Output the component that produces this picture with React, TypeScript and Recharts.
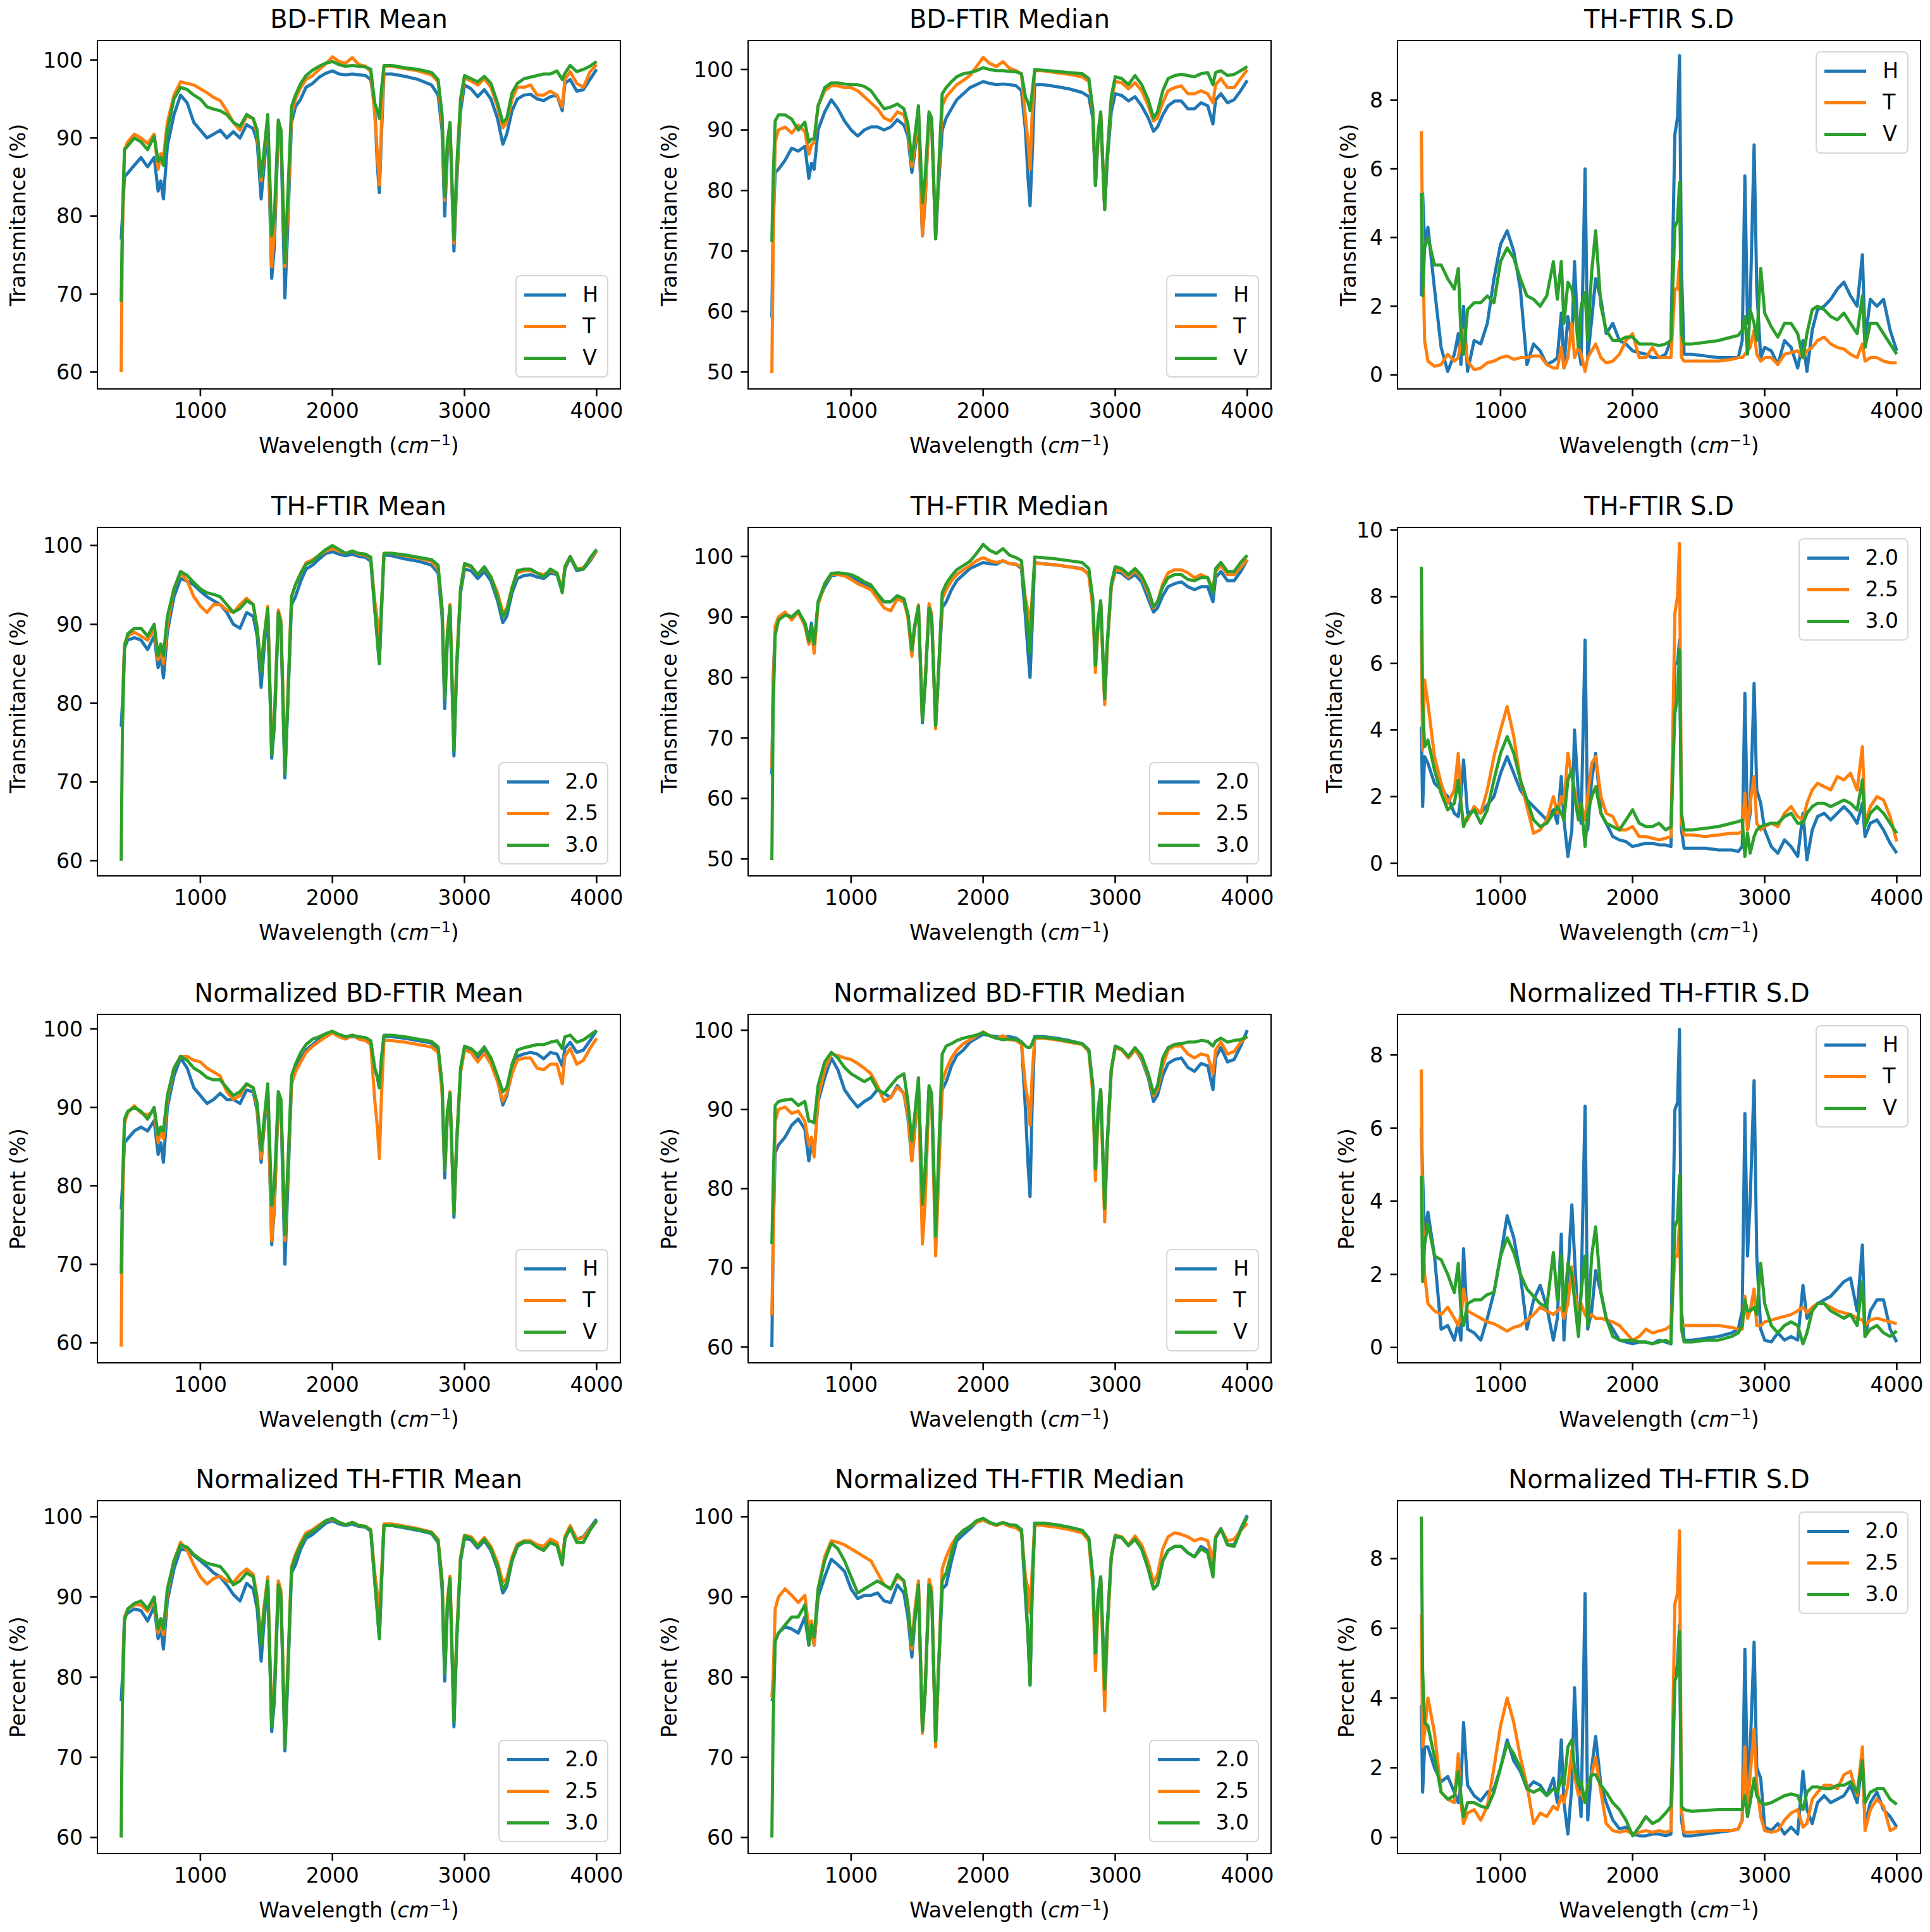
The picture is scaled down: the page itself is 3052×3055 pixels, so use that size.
import React from 'react';
import { LineChart, Line, XAxis, YAxis } from 'recharts';

// wavenumber grid (cm^-1) shared by every panel
const WAVENUMBERS = [
  400, 410, 425, 450, 500, 550, 600, 650, 680, 700,
  720, 750, 800, 850, 900, 950, 1000, 1050, 1100, 1150,
  1200, 1250, 1300, 1350, 1400, 1430, 1460, 1480, 1510, 1540,
  1560, 1590, 1610, 1640, 1660, 1690, 1720, 1760, 1800, 1850,
  1900, 1950, 2000, 2050, 2100, 2150, 2200, 2250, 2290, 2320,
  2340, 2355, 2370, 2390, 2450, 2550, 2650, 2750, 2800, 2830,
  2850, 2870, 2890, 2920, 2940, 2970, 3000, 3050, 3100, 3150,
  3200, 3250, 3290, 3320, 3360, 3400, 3450, 3500, 3550, 3600,
  3650, 3700, 3740, 3760, 3800, 3850, 3900, 3950, 4000,
];

// BD-FTIR Mean
const BD_MEAN_H = [
  77, 80, 85, 85.5, 86.5, 87.5, 86.3, 87.5, 83.2, 84.5,
  82.2, 89, 93, 95.5, 94.5, 92, 91, 90, 90.5, 91,
  90, 90.8, 90, 91.7, 91.2, 89.5, 82.2, 86, 91.5, 72,
  76, 91.5, 90, 69.5, 78, 92, 94, 95, 96.5, 97,
  97.8, 98.3, 98.6, 98.2, 98.1, 98.2, 98.1, 98, 97.5, 94,
  86.5, 83, 90, 98.2, 98.2, 97.9, 97.5, 96.8, 95.5, 91,
  80, 88, 91.5, 75.5, 84, 93.5, 96.8, 96.3, 95.3, 96.2,
  95, 92.5, 89.2, 90.5, 93.5, 95, 95.5, 95.6, 95, 94.8,
  95.3, 95.5, 93.5, 97, 97.5, 96, 96.2, 97.5, 98.8,
];
const BD_MEAN_T = [
  60, 78, 88.5, 89.5, 90.5, 90, 89.3, 90.5, 86, 88,
  87.5, 92, 95.5, 97.2, 97, 96.8, 96.3, 95.8, 95.2, 94.8,
  93.5, 92, 91, 92.8, 92.5, 90.5, 84.5, 87.5, 92.5, 73.5,
  78, 92, 91, 73.5, 80, 93, 95, 96.5, 97.5, 98,
  98.8, 99.5, 100.4, 99.8, 99.6, 100.3, 99.4, 99.2, 98.5, 93,
  88, 84, 91, 99.2, 99.2, 98.9, 98.6, 98.1, 97.2, 92,
  82, 89, 91.8, 76.5, 85, 94.5, 97.7, 97.3, 96.8, 97.6,
  96.5, 94, 91.3, 92, 95, 96.5, 96.5, 96.8, 95.5, 95.5,
  96, 95.5, 94, 97.5, 98.5, 97, 96.5, 98.5, 99.4,
];
const BD_MEAN_V = [
  69, 80, 88.5, 89, 90, 89.5, 88.5, 90.2, 87, 87.5,
  86.5, 91, 95, 96.5, 96.2, 95.5, 95, 94, 93.7, 93.5,
  93, 92, 91.5, 93, 92.5, 91, 85, 88, 93, 77.5,
  80, 92.3, 91, 74, 82, 94, 95.5, 97, 98, 98.7,
  99.2, 99.6, 99.8, 99.4, 99.2, 99.3, 99.2, 99.1, 98.8, 94.5,
  93.5, 92.5, 96, 99.3, 99.3, 99, 98.8, 98.4, 97.5, 93,
  82.5, 89.5, 92, 77, 86, 95, 98, 97.6, 97.2, 97.9,
  97, 94.5, 92, 92.5, 95.8, 97, 97.6, 97.8, 98, 98.2,
  98.2, 98.6, 97.5, 98.3, 99.3, 98.5, 98.8, 99.2, 99.8,
];

// BD-FTIR Median
const BD_MED_H = [
  59, 75, 83, 83.5, 85, 87, 86.5, 87.3, 82, 84.5,
  83.5, 90, 93, 95, 93.5, 91.5, 90, 89, 90, 90.5,
  90.5, 90, 90.5, 91.7, 90.8, 89, 83, 86, 92, 72.5,
  78, 92.5, 91, 72, 80, 90, 92, 93.5, 95, 96,
  97, 97.5, 98, 97.7, 97.5, 97.6, 97.5, 97.3, 96.5, 90,
  82, 77.5, 85, 97.5, 97.5, 97.2, 96.8, 96.2, 95.5, 92,
  81, 88.5, 92.7, 77, 85, 93, 96, 95.7, 94.8, 95.5,
  94, 92, 89.8, 90.5, 92.5, 94, 94.8, 94.8, 93.5, 93.5,
  94.5, 94, 91, 95, 96, 94.5, 95, 96.5, 98.2,
];
const BD_MED_T = [
  49.8, 71, 88, 90, 90.5, 89.5, 90.8, 89.7, 86, 87.5,
  88, 94, 96.5, 97.3, 97.3, 97, 97, 96.5, 95.5, 94.5,
  93.5, 92, 91.5, 93, 92.5, 90, 84, 87, 93, 72.5,
  78, 92.3, 91, 72.5, 81, 94, 95.5, 96.5, 97.5, 98.2,
  99, 100.5, 102, 101, 100.5, 101.3, 100.2, 99.8, 99.3, 92,
  88, 83.5, 92, 99.8, 99.8, 99.5, 99.2, 98.8, 98, 93,
  81, 89, 92.8, 77, 86, 95, 98, 97.8, 96.8, 97.8,
  96.5, 94, 91.5, 92, 94.5, 96.5, 97, 97.3, 96, 96,
  96.5, 96, 94.5, 97.5, 98.5, 97, 97, 98.5, 100,
];
const BD_MED_V = [
  71.5, 82, 91.5, 92.5, 92.5, 91.8, 90, 91.3, 88, 88.5,
  88.5, 94, 97, 97.8, 97.8, 97.6, 97.5, 97.5, 97.2, 96.5,
  95, 93.5, 93.8, 94.3, 93.5, 91, 85, 88.5, 94, 78,
  82, 93, 92, 72, 82, 96, 97, 98, 98.8, 99.3,
  99.5, 99.8, 100.3, 100, 99.8, 99.8, 99.7, 99.6, 99.3, 95.5,
  94.5, 93.2, 96, 100, 99.9, 99.7, 99.5, 99.3, 98.5, 93.5,
  80.8, 89.5, 93, 76.8, 86, 95.5, 98.8, 98.5, 97.5, 99,
  97.5, 95, 92, 93, 96.5, 98.5, 99, 99.2, 99, 98.8,
  99.3, 99.5, 97.5, 99.5, 99.8, 99, 99.2, 99.8, 100.5,
];

// TH-FTIR S.D (H / T / V)
const SD_HTV_H = [
  2.3, 5.3, 3.8, 4.3, 2.5, 0.8, 0.1, 0.6, 1.2, 0.3,
  2.0, 0.1, 1.0, 0.9, 1.5, 2.8, 3.8, 4.2, 3.6, 2.5,
  0.3, 0.9, 0.7, 0.3, 0.4, 0.5, 1.8, 0.2, 1.7, 1.0,
  3.3, 0.8, 0.3, 6.0, 0.5, 1.6, 2.8, 2.2, 1.2, 1.5,
  1.0, 0.9, 0.7, 0.65, 0.6, 0.5, 0.5, 0.6, 1.0, 7.0,
  7.5, 9.3, 3.0, 0.6, 0.6, 0.55, 0.5, 0.5, 0.5, 1.0,
  5.8, 1.5, 2.0, 6.7, 2.5, 0.5, 0.8, 0.7, 0.3, 1.0,
  0.8, 0.2, 1.0, 0.1, 1.3, 1.9, 2.0, 2.2, 2.5, 2.7,
  2.3, 2.0, 3.5, 1.0, 2.2, 2.0, 2.2, 1.3, 0.7,
];
const SD_HTV_T = [
  7.1, 4.0, 1.0, 0.4, 0.25, 0.3, 0.6, 0.4, 0.5, 1.0,
  1.3, 0.4, 0.15, 0.2, 0.35, 0.4, 0.5, 0.55, 0.45, 0.5,
  0.5, 0.55, 0.55, 0.3, 0.2, 0.2, 0.8, 0.2, 0.5, 1.5,
  0.5, 0.8, 0.6, 0.1, 0.5, 0.7, 0.9, 0.5, 0.35, 0.4,
  0.6, 1.0, 1.2, 0.5, 0.5, 0.8, 0.5, 0.5, 0.5, 2.5,
  2.5, 3.3, 0.5, 0.4, 0.4, 0.4, 0.4, 0.45, 0.5, 0.5,
  0.6, 0.7, 0.8, 1.3, 0.6, 0.4, 0.5, 0.5, 0.3, 0.6,
  0.65, 0.7, 0.5, 0.7, 0.8, 1.0, 1.1, 0.9, 0.8, 0.75,
  0.6, 0.5, 0.9, 0.4, 0.5, 0.5, 0.4, 0.35, 0.35,
];
const SD_HTV_V = [
  5.3, 2.3, 3.7, 4.0, 3.2, 3.2, 2.8, 2.5, 3.1, 1.2,
  0.6, 1.9, 2.1, 2.1, 2.3, 2.1, 3.3, 3.7, 3.4, 2.8,
  2.3, 2.2, 2.0, 2.3, 3.3, 2.2, 3.3, 1.5, 2.7, 2.5,
  2.0, 0.8, 2.0, 2.4, 1.0, 3.0, 4.2, 2.0, 1.3, 1.0,
  1.0, 1.1, 1.1, 0.9, 0.9, 0.9, 0.85, 0.9, 1.0, 4.3,
  4.5, 5.6, 1.2, 0.9, 0.9, 0.95, 1.0, 1.1, 1.15, 1.3,
  1.7, 0.6, 1.9, 1.5, 1.0, 3.1, 1.8, 1.4, 1.1, 1.5,
  1.5, 1.2, 0.5, 1.2, 1.9, 2.0, 1.9, 1.7, 1.6, 1.8,
  1.5, 1.2, 2.3, 0.8, 1.5, 1.5, 1.2, 0.9, 0.6,
];

// TH-FTIR Mean
const TH_MEAN_20 = [
  77, 80, 87, 88, 88.3, 88, 86.8, 88.5, 84.5, 86,
  83.2, 89, 93.5, 95.8, 95.5, 95, 94.2, 93.5, 93, 92.5,
  91.5, 90, 89.5, 91.5, 91, 88.5, 82, 86.5, 91.8, 73,
  77, 91, 89.5, 70.5, 79, 92.5, 93.5, 95.5, 97, 97.5,
  98.3, 99, 99.2, 98.9, 98.7, 98.9, 98.6, 98.5, 98, 92,
  88, 85, 91, 98.8, 98.7, 98.3, 98, 97.5, 96.5, 91,
  79.3, 88, 92, 73.3, 84, 94, 97, 96.8, 95.8, 96.7,
  95.5, 93, 90.2, 91, 94, 95.8, 96.2, 96.3, 96, 95.8,
  96.5, 96.3, 94.2, 97, 98.5, 96.8, 97, 98, 99.3,
];
const TH_MEAN_25 = [
  78, 78, 87.5, 88.5, 89, 88.5, 88, 89.3, 85.5, 86.5,
  85, 90, 94.5, 96.5, 95.5, 93.5, 92.3, 91.5, 92.5, 92.5,
  91.8, 91.5, 92.5, 93.3, 92.5, 89.5, 84, 88, 92.3, 74,
  78, 91.8, 90.5, 72, 80, 93.5, 95, 96.5, 97.8, 98.2,
  98.8, 99.3, 99.6, 99.3, 99, 99.3, 98.9, 98.8, 98.3, 93,
  90.5, 86, 92, 99, 99, 98.7, 98.4, 98, 97, 92,
  81, 89, 92.5, 75, 85, 94.5, 97.5, 97.3, 96.3, 97.2,
  96, 94, 91.5, 92, 94.7, 96.5, 96.8, 96.8, 96.5, 96.3,
  96.8, 96.5, 94.5, 97.2, 98.6, 97, 97.2, 98.2, 99.3,
];
const TH_MEAN_30 = [
  60, 77, 87, 88.8, 89.5, 89.5, 88.5, 90, 86, 87.5,
  86, 91, 94.5, 96.7, 96.2, 95.3, 94.5, 94, 93.8, 93.5,
  92.5, 91.5, 92, 93, 92.5, 89.5, 84, 88, 92, 73.5,
  77.5, 91.5, 90, 71, 79.5, 93.5, 95, 96.5, 97.6, 98,
  98.8, 99.5, 100, 99.5, 99, 99.3, 99, 98.9, 98.5, 92,
  88, 85, 92, 99, 99, 98.8, 98.5, 98.2, 97.5, 92,
  80.5, 88.5, 92.3, 74, 84.5, 94.5, 97.7, 97.4, 96.3, 97.3,
  96, 93.5, 91, 91.7, 94.6, 96.8, 97, 97, 96.5, 96,
  97, 96.5, 94, 97.3, 98.6, 97, 97, 98.4, 99.5,
];

// TH-FTIR Median
const TH_MED_20 = [
  64, 80, 87.5, 89.5, 90.5, 90, 90.8, 89, 86.5, 89,
  85, 92.5, 95, 96.8, 97, 97, 96.8, 96, 95.5, 95,
  93.5, 92.5, 92.5, 93.5, 92.5, 90.5, 84, 88, 91.5, 72.5,
  79, 91.5, 90, 72, 80, 91.5, 92.5, 94.5, 96, 97,
  98, 98.5, 99, 98.8, 98.7, 99.3, 98.8, 98.7, 98, 90,
  84, 80, 88, 99, 98.8, 98.6, 98.3, 98, 97, 92,
  82, 89, 92.3, 76, 85.5, 95, 97.5, 97.2, 96.3, 97,
  95.8, 93, 90.8, 91.5, 93.5, 95, 95.5, 95.8, 95, 94.5,
  95, 95, 92.5, 96.5, 97.5, 96, 96, 97.5, 99.5,
];
const TH_MED_25 = [
  65, 78, 88.5, 90, 90.8, 89.5, 90.8, 88.5, 85.5, 88,
  84, 92, 95.5, 97, 97, 96.8, 96.2, 95.5, 95, 94.5,
  93, 91.5, 91, 93, 92.5, 90, 83.5, 88, 92, 73,
  79, 92.2, 90.5, 71.5, 80, 93, 94.5, 96, 97, 97.8,
  98.5, 99.3, 99.8, 99.3, 99, 99.3, 98.8, 98.7, 98.3, 93,
  91, 88, 93, 98.9, 98.8, 98.6, 98.3, 97.9, 97, 91.5,
  80.8, 88.5, 92.3, 75.5, 85, 95, 97.8, 97.6, 96.6, 97.6,
  96.5, 94, 91.5, 92.5, 95.5, 97.3, 97.8, 97.8, 97.3, 96.5,
  97, 96.5, 94.5, 97.5, 98.5, 97, 97, 98.2, 99.5,
];
const TH_MED_30 = [
  49.8, 75, 87, 89.5, 90.3, 90, 91, 89, 86, 88.5,
  85.5, 92.5, 95.5, 97.2, 97.3, 97.2, 97, 96.5, 95.8, 95.3,
  93.8, 92.5, 92.5, 93.5, 93, 90.5, 84.5, 88.5, 91.8, 72.8,
  78.5, 91.5, 90, 72, 80, 94, 95.5, 96.8, 97.8, 98.5,
  99.2, 100.5, 102, 101, 100.5, 101.3, 100.2, 99.8, 99.3, 92,
  87.5, 84, 92, 99.9, 99.8, 99.6, 99.3, 99, 98, 93,
  82, 89.5, 92.7, 76.5, 86, 95.5, 98.3, 98, 97, 98,
  96.8, 94.5, 91.7, 92.5, 95, 96.5, 97, 97, 96.2, 96,
  96.5, 96.5, 94, 98, 99, 97.5, 97.5, 99, 100.2,
];

// TH-FTIR S.D (2.0 / 2.5 / 3.0)
const SD_LVL_20 = [
  4.1, 1.7, 3.2, 3.0, 2.4, 2.2, 2.0, 1.5, 1.4, 2.0,
  3.1, 1.5, 1.6, 1.5, 1.75, 2.0, 2.7, 3.2, 2.7, 2.2,
  1.9, 1.7, 1.5, 1.3, 1.6, 1.2, 2.6, 1.3, 0.2, 1.0,
  4.0, 2.0, 1.2, 6.7, 1.0, 2.5, 3.3, 1.5, 1.2, 0.8,
  0.7, 0.65, 0.5, 0.55, 0.6, 0.6, 0.55, 0.55, 0.5, 6.0,
  6.0, 6.7, 1.0, 0.45, 0.45, 0.45, 0.4, 0.4, 0.35, 0.5,
  5.1, 1.0, 1.5, 5.4, 2.2, 1.8, 1.0, 0.5, 0.3, 0.7,
  0.5, 0.2, 1.5, 0.1, 1.0, 1.4, 1.5, 1.3, 1.5, 1.7,
  1.5, 1.2, 1.8, 0.8, 1.2, 1.3, 1.0, 0.6, 0.3,
];
const SD_LVL_25 = [
  7.0, 3.4, 5.5, 4.8, 3.2, 2.4, 1.8, 2.2, 3.3, 1.8,
  1.2, 1.3, 1.7, 1.5, 2.2, 3.2, 4.0, 4.7, 3.8, 2.5,
  1.7, 0.9, 1.0, 1.3, 2.0, 1.5, 2.0, 1.8, 3.3, 2.6,
  2.2, 1.5, 1.8, 1.3, 2.0, 3.0, 3.2, 2.0, 1.5, 1.4,
  1.0, 1.0, 1.1, 0.8, 0.8, 0.75, 0.7, 0.75, 0.8, 7.5,
  8.0, 9.6, 1.2, 0.85, 0.85, 0.8, 0.85, 0.9, 0.9, 0.95,
  2.1, 1.0, 1.8, 2.6, 1.2, 1.0, 1.1, 1.2, 1.1, 1.5,
  1.7, 1.4, 1.3, 1.8, 2.2, 2.4, 2.3, 2.2, 2.6, 2.5,
  2.7, 2.2, 3.5, 1.2, 1.7, 2.0, 1.9, 1.4, 0.65,
];
const SD_LVL_30 = [
  8.9, 4.8, 3.5, 3.7, 2.8, 2.1, 1.6, 1.8, 2.5, 1.8,
  1.1, 1.4, 1.6, 1.2, 1.6, 2.5, 3.3, 3.8, 3.3, 2.5,
  1.9, 1.3, 1.1, 1.2, 1.5, 1.7, 1.5, 1.3, 2.5, 2.8,
  2.0, 1.3, 1.8, 0.5, 1.5, 2.0, 2.3, 1.5, 1.2, 1.1,
  1.0, 1.3, 1.6, 1.2, 1.1, 1.1, 1.2, 1.0, 1.1, 4.5,
  5.0, 6.4, 1.5, 1.0, 1.0, 1.05, 1.1, 1.2, 1.25, 1.3,
  0.2, 0.9, 0.3, 0.8, 1.0, 1.1, 1.15, 1.2, 1.2, 1.4,
  1.5, 1.2, 1.2, 1.5, 1.7, 1.8, 1.8, 1.7, 1.8, 1.9,
  1.8, 1.6, 2.5, 1.1, 1.5, 1.7, 1.5, 1.2, 0.9,
];

// Normalized BD-FTIR Mean
const NBD_MEAN_H = [
  77, 80, 85.5, 86, 87, 87.5, 87, 88.3, 84, 85.5,
  83, 90, 94, 96.3, 95, 92.5, 91.5, 90.5, 91, 91.8,
  91, 91, 90.5, 92.2, 92, 89.5, 83, 87, 92, 72.5,
  77, 91, 90, 70, 79, 93, 95, 96.2, 97.3, 98,
  98.7, 99, 99.5, 99.2, 98.9, 99, 99, 98.8, 98.3, 95,
  93.8, 92.5, 96, 99, 99, 98.8, 98.5, 98.2, 97.5, 92.5,
  81, 89, 91.8, 76, 85, 94.5, 97.5, 97.3, 96.3, 97.3,
  95.8, 93.5, 90.3, 91.5, 94.5, 96.5, 96.8, 97, 96.8, 96.2,
  97, 96.8, 95.3, 97.5, 98.3, 97, 97.3, 98.5, 99.8,
];
const NBD_MEAN_T = [
  59.5, 77, 88, 89.3, 90.2, 89.3, 89, 89.6, 85.5, 87,
  86, 91, 95, 96.5, 96.5, 96, 95.8, 95, 94.5, 94,
  92, 91, 91.5, 93, 92.5, 90, 83.5, 87.5, 92.5, 73,
  77.5, 91.5, 90.5, 73, 81, 93, 94.5, 95.8, 97, 97.8,
  98.4, 99, 99.5, 99, 98.7, 99.2, 98.7, 98.5, 98, 91,
  87.5, 83.5, 91, 98.5, 98.5, 98.3, 98, 97.7, 97, 92,
  82, 89, 92, 76.5, 85.5, 94.5, 97.3, 97, 95.8, 96.9,
  95.5, 93.3, 90.8, 91.8, 94.3, 96, 96.3, 96.3, 95, 94.8,
  95.5, 95.5, 93, 96.5, 97.5, 95.5, 96, 97.5, 98.8,
];
const NBD_MEAN_V = [
  68.8, 80, 88.5, 89.5, 90, 89.5, 88.5, 90, 86.5, 87.5,
  87, 91.5, 95, 96.5, 96, 95, 94.5, 93.8, 93.5, 93.5,
  92.5, 91.5, 92, 93, 92.5, 90.5, 84.5, 88, 93, 77.5,
  80, 92, 91, 73.8, 81.5, 94, 95.5, 97, 98, 98.7,
  99, 99.4, 99.7, 99.3, 99, 99.2, 99, 98.9, 98.5, 95,
  94, 92.5, 96, 99.2, 99.2, 99, 98.7, 98.4, 97.7, 93,
  82, 89.5, 91.8, 76.5, 85.5, 95, 97.8, 97.5, 96.7, 97.7,
  96.3, 94, 92, 92.5, 95.5, 97.3, 97.6, 97.8, 98, 98,
  98.3, 98.5, 97.5, 99, 99.2, 98.3, 98.6, 99.2, 99.8,
];

// Normalized BD-FTIR Median
const NBD_MED_H = [
  60, 74.5, 84.5, 85.5, 86.5, 88, 88.8, 87.5, 83.5, 85.5,
  84.5, 91, 94, 96.5, 95, 92.5, 91.3, 90.3, 91, 91.5,
  92.5, 92, 91.5, 93, 92, 89, 83.5, 87, 93, 78.5,
  82, 92.5, 91.5, 74.5, 82, 92.5, 93.5, 95.5, 96.8, 97.5,
  98.5, 99, 99.5, 99.3, 99.2, 99.1, 99.2, 99, 98.5, 90,
  83, 79, 90, 99.2, 99.2, 99, 98.7, 98.3, 97.5, 93,
  82.5, 90, 92.5, 77.5, 86, 95, 97.8, 97.6, 96.5, 97.6,
  96.3, 94, 91, 91.8, 94.3, 95.8, 96.3, 96.5, 95.3, 94.8,
  95.8, 95.5, 92.5, 96.5, 97.8, 96, 96.3, 98, 100,
];
const NBD_MED_T = [
  64, 73, 88.5, 90, 90.3, 89.5, 89.8, 88.5, 85.5, 86.5,
  84, 91.5, 95, 97, 96.8, 96.5, 96.3, 95.8, 95.2, 94.5,
  93, 91, 91.5, 92.8, 92, 89.5, 83.5, 87.5, 92.5, 73,
  78, 92, 91, 71.5, 80, 93.5, 95, 96.5, 97.5, 98.3,
  98.8, 99.3, 99.8, 99.3, 99, 99.3, 98.8, 98.7, 98.2, 93,
  91, 88, 94, 99, 99, 98.8, 98.5, 98.2, 97.3, 92,
  81, 89, 92.5, 75.8, 85.5, 95, 97.8, 97.5, 96.5, 97.5,
  96.5, 94.3, 91.7, 92.5, 95.5, 97.5, 98, 98, 97, 96.5,
  97, 96.8, 94.5, 97.5, 98.5, 97, 97.3, 98.5, 99.2,
];
const NBD_MED_V = [
  73, 80.5, 90.5, 91, 91.2, 91.3, 90.5, 91, 88.5, 88.5,
  88.3, 93, 96, 97.2, 96.5, 95.3, 94.5, 94, 93.5, 94,
  92.5, 92, 93, 94, 94.5, 91, 86, 89, 94, 78,
  82, 93, 92, 74, 83, 97, 98, 98.3, 98.7, 99,
  99.2, 99.4, 99.7, 99.3, 99, 98.8, 98.9, 98.8, 98.5, 98,
  97.8, 97.8, 98.3, 99.1, 99.1, 98.9, 98.6, 98.3, 97.5, 93,
  82.5, 89.5, 92.5, 77.5, 86, 95, 98, 97.6, 96.7, 97.8,
  96.8, 94.5, 92, 93, 96.5, 97.8, 98.2, 98.3, 98.5, 98.5,
  98.7, 98.6, 98, 98.6, 99, 98.5, 98.7, 98.8, 99.2,
];

// Normalized TH-FTIR S.D (H / T / V)
const NSD_HTV_H = [
  6.0, 4.7, 3.0, 3.7, 2.5, 0.5, 0.6, 0.2, 0.7, 0.2,
  2.7, 0.5, 0.4, 0.2, 0.8, 1.5, 2.5, 3.6, 3.0, 2.0,
  0.5, 1.3, 1.7, 1.1, 0.2, 0.8, 3.1, 0.2, 2.0, 3.9,
  2.5, 0.5, 1.5, 6.6, 0.5, 1.0, 2.1, 1.5, 0.8, 0.5,
  0.2, 0.15, 0.1, 0.15, 0.15, 0.1, 0.2, 0.15, 0.1, 6.5,
  6.7, 8.7, 1.0, 0.2, 0.2, 0.25, 0.3, 0.4, 0.5, 1.0,
  6.4, 2.5, 4.0, 7.3, 2.5, 0.5, 0.2, 0.15, 0.4, 0.2,
  0.3, 0.2, 1.7, 0.8, 1.0, 1.2, 1.3, 1.4, 1.6, 1.8,
  1.9, 1.0, 2.8, 0.3, 1.0, 1.3, 1.3, 0.5, 0.15,
];
const NSD_HTV_T = [
  7.6, 3.5, 2.0, 1.2, 1.0, 0.9, 1.1, 0.8, 0.6, 0.9,
  1.6, 1.0, 0.9, 0.8, 0.7, 0.65, 0.55, 0.45, 0.55, 0.6,
  0.75, 0.9, 1.1, 1.0, 0.9, 1.0, 1.1, 0.8, 1.2, 2.2,
  1.5, 1.0, 1.2, 0.9, 0.8, 0.9, 0.8, 0.8, 0.75, 0.7,
  0.6, 0.4, 0.2, 0.3, 0.5, 0.4, 0.45, 0.5, 0.6, 2.5,
  2.5, 3.4, 0.6, 0.6, 0.6, 0.6, 0.6, 0.55, 0.5, 0.5,
  1.4, 0.8, 1.0, 1.6, 0.6, 0.6, 0.7, 0.75, 0.8, 0.85,
  0.9, 1.0, 1.1, 0.95, 1.1, 1.2, 1.2, 1.1, 1.0, 0.95,
  0.9, 0.8, 0.75, 0.6, 0.75, 0.8, 0.75, 0.7, 0.65,
];
const NSD_HTV_V = [
  4.7, 1.8, 2.8, 3.4, 2.5, 2.4, 2.0, 1.5, 2.3, 1.0,
  0.6, 1.2, 1.3, 1.3, 1.45, 1.5, 2.5, 3.0, 2.6, 2.0,
  1.6, 1.4, 1.2, 1.1, 2.6, 1.3, 2.5, 1.0, 2.3, 2.0,
  1.3, 0.3, 1.5, 2.5, 0.6, 2.5, 3.3, 1.5, 0.8, 0.3,
  0.2, 0.2, 0.2, 0.15, 0.15, 0.1, 0.15, 0.2, 0.1, 3.3,
  3.5, 4.7, 0.5, 0.15, 0.15, 0.2, 0.2, 0.3, 0.4, 0.6,
  1.3, 1.0, 1.0, 1.1, 0.9, 2.3, 1.2, 0.6, 0.4, 0.6,
  0.7, 0.6, 0.1, 0.4, 1.0, 1.2, 1.2, 1.0, 0.9, 0.8,
  0.9, 0.6, 1.8, 0.3, 0.5, 0.6, 0.4, 0.3, 0.45,
];

// Normalized TH-FTIR Mean
const NTH_MEAN_20 = [
  77, 80, 87.5, 88, 88.5, 88.3, 87, 88.8, 84.8, 86.2,
  83.5, 89.5, 93.5, 96, 95.8, 95.2, 94.5, 93.8, 93, 92.5,
  91.5, 90.3, 89.5, 91.7, 91, 88.5, 82, 86.5, 92, 73.2,
  77, 91, 90, 70.8, 79, 93, 94, 96, 97.3, 97.8,
  98.5, 99.2, 99.5, 99.1, 98.9, 99.1, 98.8, 98.7, 98.2, 92,
  88, 84.8, 91, 98.9, 98.9, 98.6, 98.3, 97.9, 96.8, 91,
  79.5, 88.5, 92, 73.8, 84, 94.5, 97.3, 97.1, 96.1, 97,
  95.8, 93.5, 90.5, 91.3, 94.5, 96.3, 96.8, 96.9, 96.4, 96,
  97, 96.6, 94.3, 97.3, 98.8, 97.2, 97.5, 98.6, 99.7,
];
const NTH_MEAN_25 = [
  78, 78, 87.5, 88.5, 89, 89, 88.2, 89.5, 85.5, 86.8,
  85.3, 90.5, 94.5, 96.8, 95.8, 94, 92.5, 91.6, 92.3, 92.6,
  92, 91.8, 92.8, 93.5, 92.8, 90, 84.5, 88.5, 92.5, 74.3,
  78.5, 92, 90.8, 72, 80.5, 93.8, 95.3, 96.8, 98, 98.4,
  99, 99.5, 99.7, 99.3, 99, 99.3, 98.9, 98.8, 98.4, 93,
  90.5, 86, 92.5, 99.1, 99.1, 98.8, 98.5, 98.1, 97.2, 92,
  81, 89.5, 92.6, 75.5, 85, 95, 97.7, 97.5, 96.5, 97.4,
  96.3, 94.3, 91.8, 92.3, 95, 96.6, 97, 97, 96.5, 96.3,
  97.2, 96.8, 94.5, 97.5, 98.9, 97.2, 97.4, 98.5, 99.4,
];
const NTH_MEAN_30 = [
  60, 77, 87, 88.5, 89.2, 89.5, 88.5, 90, 86, 87.3,
  86, 91, 94.5, 96.5, 96.2, 95.3, 94.7, 94.2, 94, 93.8,
  92.8, 91.5, 92, 93, 92.5, 89.5, 84, 88, 92, 73.8,
  78, 91.5, 90.2, 71.2, 80, 93.5, 95, 96.5, 97.7, 98.2,
  98.8, 99.5, 99.8, 99.3, 99, 99.3, 98.9, 98.8, 98.3, 92,
  88, 84.8, 91.5, 98.9, 98.9, 98.7, 98.4, 98, 97, 92,
  80.5, 89, 92.3, 74.5, 84.5, 94.7, 97.6, 97.3, 96.3, 97.2,
  96, 93.8, 91, 91.7, 94.6, 96.4, 96.9, 96.8, 96.2, 95.8,
  96.8, 96.4, 94, 97.2, 98.6, 96.8, 96.8, 98.3, 99.5,
];

// Normalized TH-FTIR Median
const NTH_MED_20 = [
  77, 77.5, 84.5, 85.5, 86.3, 86, 85.5, 87.5, 84, 86,
  84, 90, 92.5, 94.7, 94, 93.2, 91, 89.8, 90.2, 90.2,
  90.5, 89.5, 89.3, 91.5, 90.5, 87.5, 82.5, 86.5, 91.5, 73.5,
  78, 91.5, 90.5, 72, 80, 91, 91.5, 94.5, 97, 97.8,
  98.5, 99.3, 99.6, 99.2, 99, 99.2, 99, 98.9, 98.4, 90,
  85, 79, 90, 99.2, 99.2, 99, 98.7, 98.3, 97.3, 92.5,
  83, 90, 92.5, 79, 86.5, 95, 97.5, 97.4, 96.4, 97.2,
  96, 93.5, 91, 91.5, 94.5, 95.8, 96.3, 96.3, 95.5, 95,
  96.3, 95.8, 92.8, 97.5, 98.5, 96.5, 96.5, 98.5, 100.2,
];
const NTH_MED_25 = [
  77.5, 80, 88.5, 90, 91, 90.2, 89.3, 90.2, 86, 87,
  84, 91, 95, 97, 96.8, 96.5, 96, 95.5, 95, 94.5,
  93, 91.5, 91, 92.5, 92, 89, 83.5, 88, 92, 73,
  78, 92.2, 91, 71.3, 80, 93.5, 95, 96.5, 97.5, 98.3,
  98.8, 99.3, 99.6, 99.2, 98.9, 99.2, 98.8, 98.6, 98.1, 92.5,
  91, 88, 93, 99, 98.9, 98.7, 98.4, 98, 97, 91.5,
  80.8, 89, 92.3, 75.8, 85.5, 95, 97.7, 97.5, 96.5, 97.6,
  96.5, 94.3, 91.8, 92.8, 96, 97.5, 98, 97.8, 97.5, 97,
  97.3, 97, 94.5, 97.5, 98.5, 97, 97.2, 98.3, 99.2,
];
const NTH_MED_30 = [
  60, 74.5, 84.5, 85.5, 86.5, 87.5, 87.5, 89, 84, 86.5,
  85, 91, 94.5, 96.7, 96, 94.5, 92.5, 90.5, 91, 91.5,
  92, 91.5, 91, 92.8, 92, 89, 84, 87, 91.5, 73.3,
  78, 91.5, 90.5, 72, 80.5, 92, 93, 95.5, 97.5, 98.3,
  98.8, 99.5, 99.8, 99.3, 99, 99.3, 99, 98.9, 98.4, 91,
  85, 79, 90, 99.2, 99.2, 99, 98.7, 98.3, 97.3, 92.5,
  83, 90, 92.5, 78.5, 86.5, 95, 97.6, 97.4, 96.4, 97.2,
  96, 93.5, 91, 91.5, 94.5, 95.8, 96.3, 96.3, 95.5, 95,
  96, 95.5, 92.5, 97.3, 98.5, 96.5, 96.3, 98.3, 100,
];

// Normalized TH-FTIR S.D (2.0 / 2.5 / 3.0)
const NSD_LVL_20 = [
  3.8, 1.3, 2.6, 2.6, 2.0, 1.6, 1.75, 1.3, 1.0, 1.5,
  3.3, 1.5, 1.2, 1.05, 1.3, 1.4, 2.0, 2.8, 2.2, 1.9,
  1.4, 1.6, 1.5, 1.2, 1.7, 1.0, 2.8, 1.0, 0.1, 1.5,
  4.3, 1.5, 0.6, 7.0, 0.5, 2.0, 2.9, 1.5, 1.0, 0.5,
  0.25, 0.3, 0.1, 0.05, 0.05, 0.1, 0.1, 0.05, 0.1, 4.5,
  5.0, 6.1, 0.5, 0.05, 0.05, 0.1, 0.15, 0.2, 0.25, 0.5,
  5.4, 1.5, 2.5, 5.6, 2.0, 1.7, 0.3, 0.2, 0.4, 0.1,
  0.3, 0.1, 1.9, 0.8, 0.4, 1.0, 1.2, 1.0, 1.1, 1.2,
  1.5, 1.0, 2.2, 0.4, 1.0, 1.3, 0.8, 0.6, 0.3,
];
const NSD_LVL_25 = [
  6.4, 2.6, 3.0, 4.0, 3.0, 1.3, 1.1, 1.0, 2.4, 1.0,
  0.4, 0.7, 0.8, 0.5, 0.9, 2.0, 3.2, 4.0, 3.3, 2.3,
  1.5, 0.4, 0.7, 0.6, 0.9, 0.8, 1.2, 1.0, 1.5, 2.5,
  1.8, 1.2, 1.3, 1.0, 1.5, 1.8, 2.3, 1.3, 0.4, 0.2,
  0.15, 0.2, 0.1, 0.15, 0.2, 0.15, 0.2, 0.15, 0.2, 6.7,
  7.0, 8.8, 0.8, 0.15, 0.15, 0.18, 0.2, 0.2, 0.25, 0.5,
  2.6, 0.8, 1.8, 3.1, 1.5, 0.6, 0.2, 0.15, 0.2, 0.5,
  0.7, 0.8, 0.3, 0.4, 1.1, 1.3, 1.5, 1.5, 1.4, 1.8,
  1.9, 1.2, 2.6, 0.2, 0.8, 1.1, 0.9, 0.2, 0.3,
];
const NSD_LVL_30 = [
  9.2, 4.8, 3.3, 3.2, 2.3, 1.3, 1.1, 1.2, 1.9, 1.2,
  0.6, 1.0, 1.0, 0.9, 0.85, 1.3, 2.0, 2.7, 2.4, 2.0,
  1.4, 1.3, 1.4, 1.2, 1.4, 1.3, 1.7, 1.5, 2.6, 2.8,
  2.0, 1.5, 1.6, 1.0, 1.5, 1.8, 1.8, 1.5, 1.3, 1.0,
  0.8, 0.5, 0.05, 0.3, 0.6, 0.4, 0.5, 0.7, 0.9, 4.5,
  4.7, 5.9, 0.9, 0.8, 0.75, 0.78, 0.8, 0.8, 0.8, 0.8,
  1.2, 0.6, 1.0, 1.7, 1.2, 1.0, 0.95, 1.0, 1.1, 1.2,
  1.25, 1.2, 0.8, 1.3, 1.45, 1.45, 1.4, 1.4, 1.5, 1.5,
  1.6, 1.3, 2.2, 1.0, 1.3, 1.4, 1.4, 1.1, 0.95,
];

const GROUP_LABELS = ['H', 'T', 'V'];
const LEVEL_LABELS = ['2.0', '2.5', '3.0'];
const X_TICKS = [1000, 2000, 3000, 4000];
const PCT_TICKS = [60, 70, 80, 90, 100];
const PCT_TICKS_WIDE = [50, 60, 70, 80, 90, 100];
const SD_TICKS = [0, 2, 4, 6, 8];
const SD_TICKS_TALL = [0, 2, 4, 6, 8, 10];

const COLORS = ['#1f77b4', '#ff7f0e', '#2ca02c'];
const FONT = '"DejaVu Sans", sans-serif';

// frame geometry of the 4x3 grid (px)
const COL_LEFT = [154, 1183, 2210];
const ROW_TOP = [64, 834, 1604, 2373];
const ROW_H = [551, 551, 551, 558];
const FRAME_W = 827;
const AXIS_W = 150;
const AXIS_H = 60;
const PAD_R = 50;
const PAD_T = 30;

type PanelDef = {
  row: number;
  col: number;
  title: string;
  yLabel: string;
  domain: [number, number];
  ticks: number[];
  labels: string[];
  series: number[][];
  legendTop: boolean;
  yLabelOffset: number;
};

const TRANS = 'Transmitance (%)';
const PERCENT = 'Percent (%)';

const PANELS: PanelDef[] = [
  { row: 0, col: 0, title: 'BD-FTIR Mean', yLabel: TRANS, domain: [57.84, 102.5], ticks: PCT_TICKS, labels: GROUP_LABELS, series: [BD_MEAN_H, BD_MEAN_T, BD_MEAN_V], legendTop: false, yLabelOffset: 125 },
  { row: 0, col: 1, title: 'BD-FTIR Median', yLabel: TRANS, domain: [47.2, 104.8], ticks: PCT_TICKS_WIDE, labels: GROUP_LABELS, series: [BD_MED_H, BD_MED_T, BD_MED_V], legendTop: false, yLabelOffset: 124 },
  { row: 0, col: 2, title: 'TH-FTIR S.D', yLabel: TRANS, domain: [-0.41, 9.74], ticks: SD_TICKS, labels: GROUP_LABELS, series: [SD_HTV_H, SD_HTV_T, SD_HTV_V], legendTop: true, yLabelOffset: 77 },
  { row: 1, col: 0, title: 'TH-FTIR Mean', yLabel: TRANS, domain: [58.08, 102.29], ticks: PCT_TICKS, labels: LEVEL_LABELS, series: [TH_MEAN_20, TH_MEAN_25, TH_MEAN_30], legendTop: false, yLabelOffset: 125 },
  { row: 1, col: 1, title: 'TH-FTIR Median', yLabel: TRANS, domain: [47.2, 104.8], ticks: PCT_TICKS_WIDE, labels: LEVEL_LABELS, series: [TH_MED_20, TH_MED_25, TH_MED_30], legendTop: false, yLabelOffset: 124 },
  { row: 1, col: 2, title: 'TH-FTIR S.D', yLabel: TRANS, domain: [-0.38, 10.08], ticks: SD_TICKS_TALL, labels: LEVEL_LABELS, series: [SD_LVL_20, SD_LVL_25, SD_LVL_30], legendTop: true, yLabelOffset: 99 },
  { row: 2, col: 0, title: 'Normalized BD-FTIR Mean', yLabel: PERCENT, domain: [57.45, 101.85], ticks: PCT_TICKS, labels: GROUP_LABELS, series: [NBD_MEAN_H, NBD_MEAN_T, NBD_MEAN_V], legendTop: false, yLabelOffset: 125 },
  { row: 2, col: 1, title: 'Normalized BD-FTIR Median', yLabel: PERCENT, domain: [58, 102], ticks: PCT_TICKS, labels: GROUP_LABELS, series: [NBD_MED_H, NBD_MED_T, NBD_MED_V], legendTop: false, yLabelOffset: 124 },
  { row: 2, col: 2, title: 'Normalized TH-FTIR S.D', yLabel: PERCENT, domain: [-0.42, 9.11], ticks: SD_TICKS, labels: GROUP_LABELS, series: [NSD_HTV_H, NSD_HTV_T, NSD_HTV_V], legendTop: true, yLabelOffset: 80 },
  { row: 3, col: 0, title: 'Normalized TH-FTIR Mean', yLabel: PERCENT, domain: [58, 102], ticks: PCT_TICKS, labels: LEVEL_LABELS, series: [NTH_MEAN_20, NTH_MEAN_25, NTH_MEAN_30], legendTop: false, yLabelOffset: 125 },
  { row: 3, col: 1, title: 'Normalized TH-FTIR Median', yLabel: PERCENT, domain: [58, 102], ticks: PCT_TICKS, labels: LEVEL_LABELS, series: [NTH_MED_20, NTH_MED_25, NTH_MED_30], legendTop: false, yLabelOffset: 124 },
  { row: 3, col: 2, title: 'Normalized TH-FTIR S.D', yLabel: PERCENT, domain: [-0.46, 9.66], ticks: SD_TICKS, labels: LEVEL_LABELS, series: [NSD_LVL_20, NSD_LVL_25, NSD_LVL_30], legendTop: true, yLabelOffset: 80 },
];

const tickStyle = { fill: '#000', fontSize: 33, fontFamily: FONT };
const tickLineStyle = { stroke: '#000', strokeWidth: 2.6 };

const Legend: React.FC<{ labels: string[]; top: boolean }> = ({ labels, top }) => (
  <div
    style={{
      position: 'absolute',
      right: 19,
      ...(top ? { top: 17 } : { bottom: 18 }),
      background: 'rgba(255,255,255,0.8)',
      border: '2.6px solid #d6d6d6',
      borderRadius: 8,
      padding: '4px 14px 4px 12px',
    }}
  >
    {labels.map((label, k) => (
      <div key={label} style={{ display: 'flex', alignItems: 'center', height: 50 }}>
        <div style={{ width: 66, height: 5, background: COLORS[k], marginRight: 26 }} />
        <span style={{ fontSize: 33, lineHeight: '50px', fontFamily: FONT, color: '#000' }}>{label}</span>
      </div>
    ))}
  </div>
);

const Panel: React.FC<{ p: PanelDef }> = ({ p }) => {
  const left = COL_LEFT[p.col];
  const top = ROW_TOP[p.row];
  const h = ROW_H[p.row];
  const data = WAVENUMBERS.map((x, i) => ({
    x,
    s0: p.series[0][i],
    s1: p.series[1][i],
    s2: p.series[2][i],
  }));

  return (
    <>
      <div
        style={{
          position: 'absolute', left, top: top - 56, width: FRAME_W,
          textAlign: 'center', fontSize: 40, lineHeight: '44px', fontFamily: FONT, color: '#000',
          whiteSpace: 'nowrap',
        }}
      >
        {p.title}
      </div>

      <div style={{ position: 'absolute', left: left - AXIS_W, top: top - PAD_T }}>
        <LineChart
          width={FRAME_W + AXIS_W + PAD_R}
          height={h + AXIS_H + PAD_T}
          data={data}
          margin={{ top: PAD_T, right: PAD_R, bottom: 0, left: 0 }}
        >
          <XAxis
            type="number"
            dataKey="x"
            domain={[220, 4180]}
            ticks={X_TICKS}
            interval={0}
            allowDataOverflow
            height={AXIS_H}
            axisLine={false}
            tickLine={tickLineStyle}
            tickSize={11.5}
            tickMargin={11.5}
            tick={tickStyle}
          />
          <YAxis
            type="number"
            domain={p.domain}
            ticks={p.ticks}
            interval={0}
            allowDataOverflow
            width={AXIS_W}
            axisLine={false}
            tickLine={tickLineStyle}
            tickSize={11.5}
            tickMargin={11.5}
            tick={tickStyle}
          />
          {p.series.map((_, k) => (
            <Line
              key={k}
              type="linear"
              dataKey={`s${k}`}
              stroke={COLORS[k]}
              strokeWidth={5}
              strokeLinejoin="round"
              dot={false}
              activeDot={false}
              isAnimationActive={false}
            />
          ))}
        </LineChart>
      </div>

      <div style={{ position: 'absolute', left, top, width: FRAME_W, height: h, pointerEvents: 'none' }}>
        <div
          style={{
            position: 'absolute', left: -1.3, top: -1.3, width: FRAME_W + 2.6, height: h + 2.6,
            border: '2.6px solid #000', boxSizing: 'border-box',
          }}
        />
        <Legend labels={p.labels} top={p.legendTop} />
      </div>

      <div
        style={{
          position: 'absolute', left, top: top + h + 67, width: FRAME_W,
          textAlign: 'center', fontSize: 33, lineHeight: '46px', fontFamily: FONT, color: '#000',
          whiteSpace: 'nowrap',
        }}
      >
        Wavelength (<i>cm</i>
        <sup style={{ fontSize: '0.7em', lineHeight: 0 }}>−1</sup>)
      </div>

      <div
        style={{
          position: 'absolute', left: left - p.yLabelOffset - 300, top: top + h / 2 - 22,
          width: 600, height: 44, textAlign: 'center', fontSize: 33, lineHeight: '44px',
          fontFamily: FONT, color: '#000', transform: 'rotate(-90deg)', whiteSpace: 'nowrap',
        }}
      >
        {p.yLabel}
      </div>
    </>
  );
};

const App: React.FC = () => (
  <div style={{ position: 'absolute', left: 0, top: 0, width: 3052, height: 3055, background: '#fff', overflow: 'hidden' }}>
    {PANELS.map((p) => (
      <Panel key={`${p.row}-${p.col}`} p={p} />
    ))}
  </div>
);

export default App;
